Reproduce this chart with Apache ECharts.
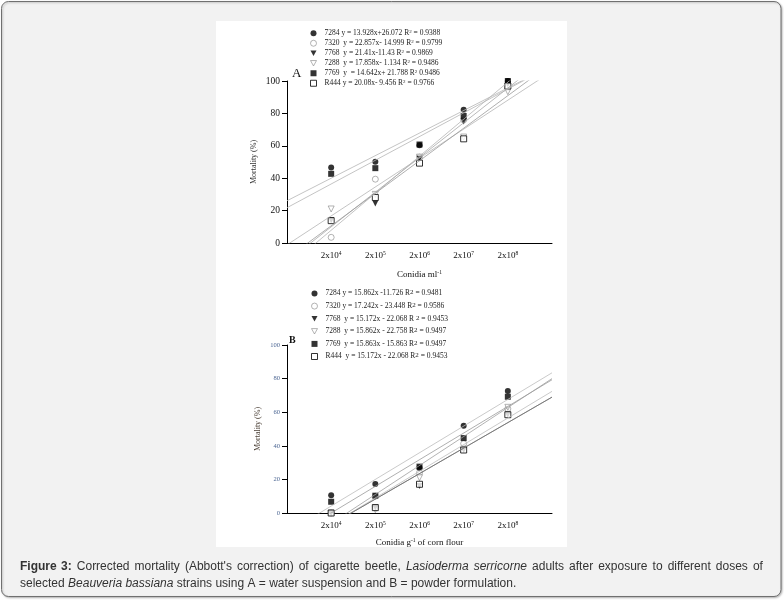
<!DOCTYPE html>
<html>
<head>
<meta charset="utf-8">
<script src="https://cdn.jsdelivr.net/npm/echarts@6/dist/echarts.min.js"></script>
<style>
  html, body { margin: 0; padding: 0; background: #fff; }
  #main { width: 784px; height: 607px; }
</style>
</head>
<body>
<div id="main"></div>
<script>
// strains, same order in both panels
const strains = ['7284', '7320', '7768', '7288', '7769', 'R444'];
const doseX = [1, 2, 3, 4, 5];

// panel A: water suspension (mortality %)
const mortA7284 = [46.6, 50.1, 60.3, 82.3, 100];
const mortA7320 = [3.5, 39.4, 53, 76, 96];
const mortA7768 = [14, 24.4, 52, 75, 98];
const mortA7288 = [21, 30, 53, 65.4, 93.4];
const mortA7769 = [42.7, 46.2, 60.8, 78.4, 100];
const mortAR444 = [13.8, 28.1, 49.3, 64.3, 96.9];

// panel B: powder formulation (mortality %)
const mortB7284 = [10.5, 17.3, 26.9, 52, 72.6];
const mortB7320 = [0, 10, 24, 41.3, 62];
const mortB7768 = [0, 3.2, 16, 37.5, 58.5];
const mortB7288 = [0, 2, 21, 38, 62.9];
const mortB7769 = [6.7, 10.3, 27.6, 44.6, 69.2];
const mortBR444 = [0, 3.2, 17.1, 37.5, 58.5];

// fitted lines read from the legends
const slopeA = [13.928, 22.857, 21.41, 17.858, 14.642, 20.08];
const interceptA = [26.072, -14.999, -11.43, -1.134, 21.788, -9.456];
const slopeB = [15.862, 17.242, 15.172, 15.862, 15.863, 15.172];
const interceptB = [-11.726, -23.448, -22.068, -22.758, -15.863, -22.068];

const legendA = [
	'7284 y = 13.928x+26.072 R{s|2} = 0.9388',
	'7320  y = 22.857x- 14.999 R{s|2} = 0.9799',
	'7768  y = 21.41x-11.43 R{s|2} = 0.9869',
	'7288  y = 17.858x- 1.134 R{s|2} = 0.9486',
	'7769  y  = 14.642x+ 21.788 R{s|2} 0.9486',
	'R444 y = 20.08x- 9.456 R{s|2} = 0.9766'
];
const legendB = [
	'7284 y = 15.862x -11.726 R{s|2} = 0.9481',
	'7320 y = 17.242x - 23.448 R{s|2} = 0.9586',
	'7768  y = 15.172x - 22.068 R {s|2} = 0.9453',
	'7288  y = 15.862x - 22.758 R{s|2} = 0.9497',
	'7769  y = 15.863x - 15.863 R{s|2} = 0.9497',
	'R444  y = 15.172x - 22.068 R{s|2} = 0.9453'
];

const mortA = [mortA7284, mortA7320, mortA7768, mortA7288, mortA7769, mortAR444];
const mortB = [mortB7284, mortB7320, mortB7768, mortB7288, mortB7769, mortBR444];

const SERIF = '"Liberation Serif", "Times New Roman", serif';
const SANS = '"Liberation Sans", Arial, sans-serif';
const triDown = 'path://M0,0 L10,0 L5,9 Z';

// marker look per strain
const markers = {
	'7284': { symbol: 'circle', size: 6, itemStyle: { color: '#000', borderWidth: 0 } },
	'7320': { symbol: 'circle', size: 6, itemStyle: { color: '#fff', borderColor: '#888', borderWidth: 0.8 } },
	'7768': { symbol: triDown, size: 6, itemStyle: { color: '#000', borderWidth: 0 } },
	'7288': { symbol: triDown, size: 6, itemStyle: { color: '#fff', borderColor: '#888', borderWidth: 0.8 } },
	'7769': { symbol: 'rect', size: 6, itemStyle: { color: '#000', borderWidth: 0 } },
	'R444': { symbol: 'rect', size: 6, itemStyle: { color: '#fff', borderColor: '#000', borderWidth: 1 } }
};
// draw order of markers (last on top)
const drawOrder = ['7320', '7288', '7768', '7284', '7769', 'R444'];

const lineColorA = ['#b5b5b5', '#b5b5b5', '#a8a8a8', '#b5b5b5', '#b5b5b5', '#9a9a9a'];
const lineColorB = ['#bdbdbd', '#a0a0a0', '#8a8a8a', '#bdbdbd', '#9a9a9a', '#707070'];

function supLabel(v) {
	return v >= 1 && v <= 5 ? '2x10{s|' + (v + 3) + '}' : '';
}

function makeXAxis(gridIndex, name, fontSize, nameGap) {
	return {
		gridIndex,
		type: 'value',
		min: 0,
		max: 6,
		interval: 1,
		name,
		nameLocation: 'middle',
		nameGap,
		nameTextStyle: { fontFamily: SERIF, fontSize: fontSize, color: '#111', rich: { s: { fontSize: 5.5, verticalAlign: 'top', lineHeight: 10 } } },
		axisLine: { lineStyle: { color: '#000', width: 1 } },
		axisTick: { show: false },
		splitLine: { show: false },
		axisLabel: {
			formatter: supLabel,
			margin: 8,
			fontFamily: SERIF,
			fontSize: fontSize,
			color: '#111',
			lineHeight: 10,
			rich: { s: { fontSize: 5.5, verticalAlign: 'top', lineHeight: 10 } }
		}
	};
}

function makeYAxis(gridIndex, labelSize, labelColor, nameColor, nameGap) {
	return {
		gridIndex,
		type: 'value',
		min: 0,
		max: 100,
		interval: 20,
		name: 'Mortality (%)',
		nameLocation: 'middle',
		nameRotate: 90,
		nameGap,
		nameTextStyle: { fontFamily: SERIF, fontSize: 8, color: nameColor },
		axisLine: { show: true, lineStyle: { color: '#000', width: 1 } },
		axisTick: { show: true, length: 5, lineStyle: { color: '#000', width: 1 } },
		splitLine: { show: false },
		axisLabel: { fontFamily: SERIF, fontSize: labelSize, color: labelColor, margin: 7 }
	};
}

function legendData(prefix) {
	return strains.map((s) => ({
		name: prefix + s,
		itemStyle: markers[s].itemStyle
	}));
}

const series = [];
// regression lines
strains.forEach((s, i) => {
	series.push({
		name: 'lineA' + s,
		type: 'line',
		xAxisIndex: 0,
		yAxisIndex: 0,
		symbol: 'none',
		silent: true,
		clip: true,
		lineStyle: { color: lineColorA[i], width: 0.8 },
		data: [[0, interceptA[i]], [6, slopeA[i] * 6 + interceptA[i]]]
	});
	series.push({
		name: 'lineB' + s,
		type: 'line',
		xAxisIndex: 1,
		yAxisIndex: 1,
		symbol: 'none',
		silent: true,
		clip: true,
		lineStyle: { color: lineColorB[i], width: 0.8 },
		data: [[0, interceptB[i]], [6, slopeB[i] * 6 + interceptB[i]]]
	});
});
// points
drawOrder.forEach((s) => {
	const i = strains.indexOf(s);
	const m = markers[s];
	series.push({
		name: 'A' + s,
		type: 'scatter',
		xAxisIndex: 0,
		yAxisIndex: 0,
		symbol: m.symbol,
		symbolSize: m.size,
		itemStyle: m.itemStyle,
		clip: false,
		data: doseX.map((x, k) => [x, mortA[i][k]])
	});
	series.push({
		name: 'B' + s,
		type: 'scatter',
		xAxisIndex: 1,
		yAxisIndex: 1,
		symbol: m.symbol,
		symbolSize: m.size,
		itemStyle: m.itemStyle,
		clip: false,
		data: doseX.map((x, k) => [x, mortB[i][k]])
	});
});

// caption, first line spread out to the full width like the original
const sp = '{sp| }';
const captionLine1 = '{b|Figure}{bsp| }{b|3:}' + sp +
	['Corrected', 'mortality', '(Abbott\'s', 'correction)', 'of', 'cigarette', 'beetle,'].join(sp) + sp +
	'{i|Lasioderma}' + sp + '{i|serricorne}' + sp +
	['adults', 'after', 'exposure', 'to', 'different', 'doses', 'of'].join(sp);
const captionLine2 = 'selected {i|Beauveria bassiana} strains using A = water suspension and B = powder formulation.';

const myChart = echarts.init(document.getElementById('main'), null, { renderer: 'canvas' });

const option = {
	animation: false,
	backgroundColor: '#fff',
	graphic: [
		{
			type: 'rect',
			z: -10,
			shape: { x: 1.5, y: 1.5, width: 779.5, height: 595, r: 7 },
			style: { fill: '#f2f2f2', stroke: '#707070', lineWidth: 1, shadowBlur: 2, shadowColor: 'rgba(0,0,0,0.25)', shadowOffsetX: 1, shadowOffsetY: 1 }
		},
		{
			type: 'rect',
			z: -9,
			shape: { x: 216, y: 21, width: 351, height: 526 },
			style: { fill: '#fff' }
		},
		{
			type: 'text',
			left: 292,
			top: 67,
			style: { text: 'A', font: '13px ' + SERIF, fill: '#111' }
		},
		{
			type: 'text',
			left: 289,
			top: 335,
			style: { text: 'B', font: 'bold 10px ' + SERIF, fill: '#111' }
		},
		{
			type: 'text',
			left: 20,
			top: 558,
			style: {
				text: captionLine1 + '\n' + captionLine2,
				font: '12px ' + SANS,
				fill: '#333',
				lineHeight: 17,
				rich: {
					b: { fontWeight: 'bold', fontSize: 12, fontFamily: SANS, fill: '#333' },
					bsp: { fontWeight: 'bold', fontSize: 12, fontFamily: SANS, fill: '#333', width: 4.4 },
					i: { fontStyle: 'italic', fontSize: 12, fontFamily: SANS, fill: '#333' },
					sp: { fontSize: 12, fontFamily: SANS, width: 5.05 }
				}
			}
		}
	],
	legend: [
		{
			orient: 'vertical',
			left: 305,
			top: 24,
			itemWidth: 6,
			itemHeight: 6,
			itemGap: 1.5,
			selectedMode: false,
			data: legendData('A'),
			formatter: (name) => legendA[strains.indexOf(name.slice(1))],
			textStyle: {
				fontFamily: SERIF,
				fontSize: 7.5,
				color: '#222',
				lineHeight: 8.5,
				padding: [0, 0, 0, 3],
				rich: { s: { fontFamily: SERIF, fontSize: 5, verticalAlign: 'top', lineHeight: 8.5, color: '#222' } }
			}
		},
		{
			orient: 'vertical',
			left: 306,
			top: 284,
			itemWidth: 6,
			itemHeight: 6,
			itemGap: 3.6,
			selectedMode: false,
			data: legendData('B'),
			formatter: (name) => legendB[strains.indexOf(name.slice(1))],
			textStyle: {
				fontFamily: SERIF,
				fontSize: 7.5,
				color: '#222',
				lineHeight: 9,
				padding: [0, 0, 0, 3],
				rich: { s: { fontFamily: SERIF, fontSize: 7, verticalAlign: 'top', lineHeight: 9, color: '#222' } }
			}
		}
	],
	grid: [
		{ left: 287, top: 81, width: 265, height: 162, containLabel: false },
		{ left: 287, top: 345, width: 265, height: 168, containLabel: false }
	],
	xAxis: [
		makeXAxis(0, 'Conidia ml{s|-1}', 9, 27),
		makeXAxis(1, 'Conidia g{s|-1} of corn flour', 9, 25)
	],
	yAxis: [
		makeYAxis(0, 9.5, '#111', '#333', 29),
		makeYAxis(1, 6.5, '#4b6592', '#4a3f35', 25)
	],
	series
};

myChart.setOption(option);

window.addEventListener('resize', function () {
	myChart.resize();
});
</script>
</body>
</html>
